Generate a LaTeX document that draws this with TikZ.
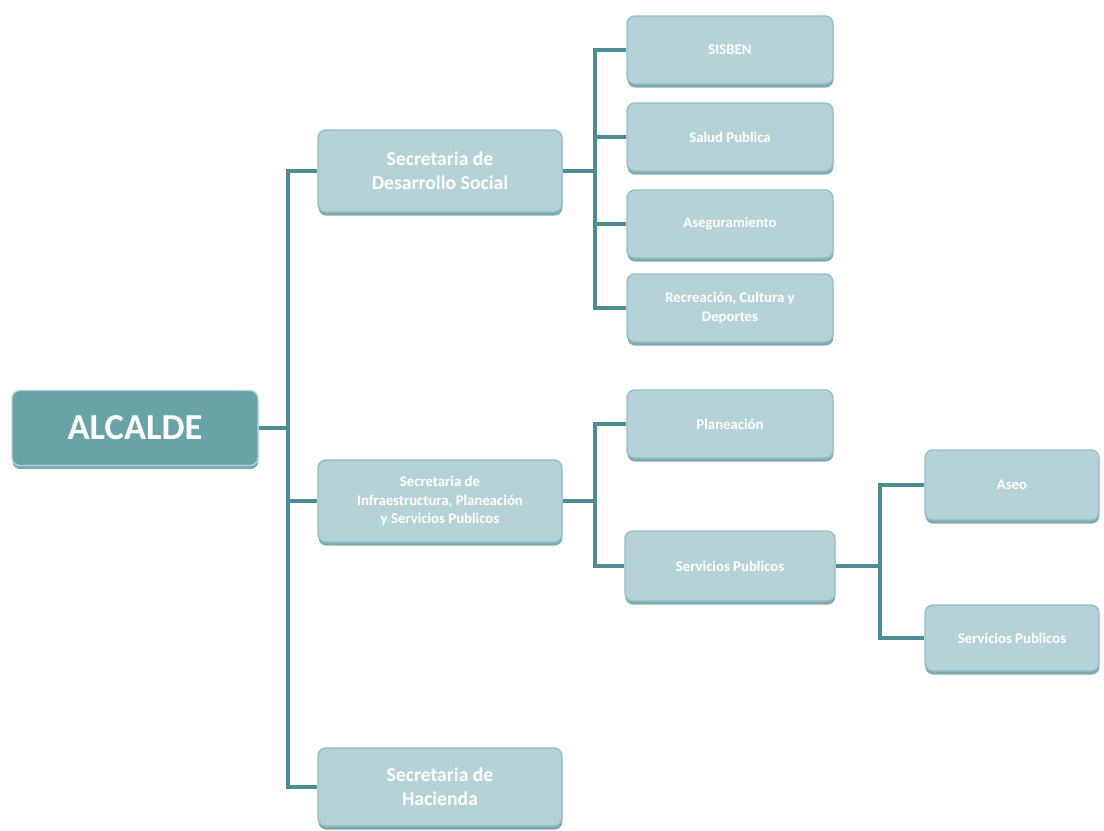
\documentclass[tikz,border=0pt]{standalone}
\usepackage{fontspec}
\setmainfont{Carlito}
\usetikzlibrary{shadows}
\definecolor{boxfill}{HTML}{B5D3D7}
\definecolor{boxline}{HTML}{93BFC4}
\definecolor{boxshade}{HTML}{7FAAB0}
\definecolor{topfill}{HTML}{68A3A8}
\definecolor{linkcol}{HTML}{4D8C93}
\begin{document}
\begin{tikzpicture}[
	unit/.style={draw=boxline, fill=boxfill, line width=1pt, rounded corners=0.2cm,
		text=white, align=center,
		drop shadow={shadow xshift=0.3pt, shadow yshift=-2.6pt, fill=boxshade, opacity=1}},
	secre/.style={unit, minimum width=6.1cm, minimum height=2.05cm, font=\bfseries\fontsize{14}{17}\selectfont},
	office/.style={unit, minimum width=5.15cm, minimum height=1.7cm, font=\bfseries\fontsize{10.5}{13}\selectfont},
	link/.style={draw=linkcol, line width=2.3pt}]
	\useasboundingbox (0,0) rectangle (27.6,-20.75);
	\node [unit, fill=topfill, draw=boxline!70!white, minimum width=6.15cm, minimum height=1.875cm,
		font=\bfseries\fontsize{26}{30}\selectfont] (alcalde) at (3.375,-10.7) {ALCALDE};
	\node [secre] (dessoc) at (11.0,-4.275) {Secretaria de\\Desarrollo Social};
	\node [secre, font=\bfseries\fontsize{10.5}{13}\selectfont] (infra) at (11.0,-12.525)
		{Secretaria de\\Infraestructura, Planeación\\y Servicios Publicos};
	\node [secre, minimum height=1.95cm] (hacienda) at (11.0,-19.675) {Secretaria de\\Hacienda};
	\node [office] (sisben) at (18.25,-1.25) {SISBEN};
	\node [office] (salud) at (18.25,-3.425) {Salud Publica};
	\node [office] (asegur) at (18.25,-5.6) {Aseguramiento};
	\node [office] (recrea) at (18.25,-7.7) {Recreación, Cultura y\\Deportes};
	\node [office] (planea) at (18.25,-10.6) {Planeación};
	\node [office, minimum width=5.25cm, minimum height=1.75cm] (servpub) at (18.25,-14.15) {Servicios Publicos};
	\node [office, minimum width=4.35cm, minimum height=1.75cm] (aseo) at (25.3,-12.125) {Aseo};
	\node [office, minimum width=4.35cm, minimum height=1.65cm] (servpubb) at (25.3,-15.95) {Servicios Publicos};
	\coordinate (t1) at (7.2,-10.7);
	\coordinate (t2) at (14.875,-4.275);
	\coordinate (t3) at (14.875,-12.525);
	\coordinate (t4) at (22.0,-14.15);
	\draw [link] (alcalde.east) -- (t1);
	\draw [link] (t1) |- (dessoc.west);
	\draw [link] (t1) |- (infra.west);
	\draw [link] (t1) |- (hacienda.west);
	\draw [link] (dessoc.east) -- (t2);
	\foreach \n in {sisben,salud,asegur,recrea}
		\draw [link] (t2) |- (\n.west);
	\draw [link] (infra.east) -- (t3);
	\draw [link] (t3) |- (planea.west);
	\draw [link] (t3) |- (servpub.west);
	\draw [link] (servpub.east) -- (t4);
	\draw [link] (t4) |- (aseo.west);
	\draw [link] (t4) |- (servpubb.west);
\end{tikzpicture}
\end{document}
